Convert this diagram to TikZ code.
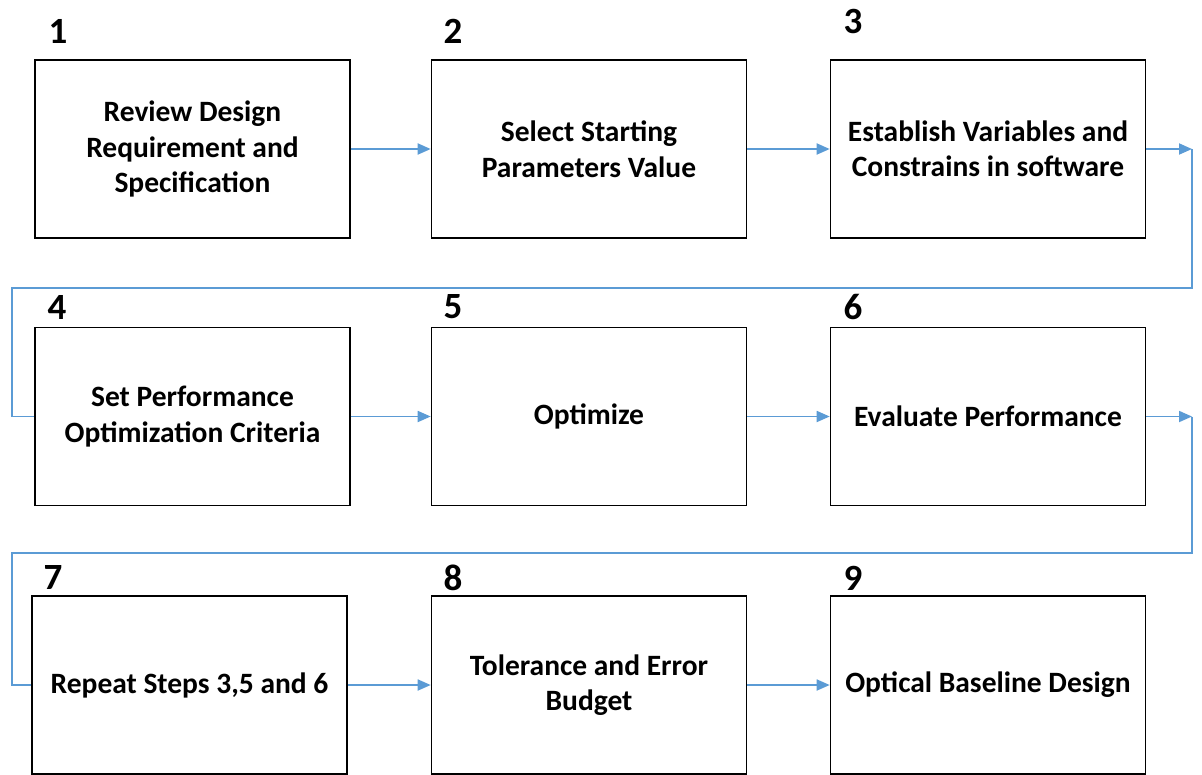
\documentclass[tikz,border=0pt]{standalone}
\usepackage{fontspec}
\setmainfont{Carlito}
\usetikzlibrary{arrows.meta}
\definecolor{flowblue}{HTML}{5B9BD5}

\begin{document}
\begin{tikzpicture}[x=1pt, y=-1pt,
 stepbox/.style={draw=black, line width=1.6pt, minimum width=315pt, minimum height=178pt,
                 align=center, inner sep=0pt, font=\fontsize{29.5}{35.5}\selectfont\bfseries},
 num/.style={inner sep=0pt, font=\fontsize{37}{40}\selectfont\bfseries},
 ar/.style={-{Triangle[length=13pt,width=11pt]}, flowblue, line width=1.8pt},
 ln/.style={flowblue, line width=1.8pt},
]
 \useasboundingbox (0,0) rectangle (1202,774);

 % row 1
 \node[stepbox] (b1) at (192.5,149) {Review Design\\ Requirement and\\ Specification};
 \node[stepbox] (b2) at (589,149) {Select Starting\\ Parameters Value};
 \node[stepbox] (b3) at (988,149) {Establish Variables and\\ Constrains in software};
 % row 2
 \node[stepbox] (b4) at (192.5,416.5) {Set Performance\\ Optimization Criteria};
 \node[stepbox] (b5) at (589,416.5) {Optimize};
 \node[stepbox] (b6) at (988,416.5) {Evaluate Performance};
 % row 3 (runs off the bottom)
 \node[stepbox] (b7) at (189.5,685) {Repeat Steps 3,5 and 6};
 \node[stepbox] (b8) at (589,685) {Tolerance and Error\\ Budget};
 \node[stepbox] (b9) at (988,685) {Optical Baseline Design};

 % step numbers
 \node[num] (n1) at (58,31) {1};
 \node[num] (n2) at (453,31) {2};
 \node[num] (n3) at (853,21) {3};
 \node[num] (n4) at (57,307) {4};
 \node[num] (n5) at (453,307) {5};
 \node[num] (n6) at (853,307) {6};
 \node[num] (n7) at (53,577) {7};
 \node[num] (n8) at (453,578) {8};
 \node[num] (n9) at (853,578) {9};

 % corners of the return lines
 \coordinate (t3) at (1192,149);
 \coordinate (k3) at (12,288);
 \coordinate (t6) at (1192,416.5);
 \coordinate (k6) at (12,553);

 \draw[ar] (b1) -- (b2);
 \draw[ar] (b2) -- (b3);
 \draw[ar] (b3) -- (t3);
 \draw[ln] (t3) |- (k3) |- (b4.west);
 \draw[ar] (b4) -- (b5);
 \draw[ar] (b5) -- (b6);
 \draw[ar] (b6) -- (t6);
 \draw[ln] (t6) |- (k6) |- (b7.west);
 \draw[ar] (b7) -- (b8);
 \draw[ar] (b8) -- (b9);
\end{tikzpicture}
\end{document}
